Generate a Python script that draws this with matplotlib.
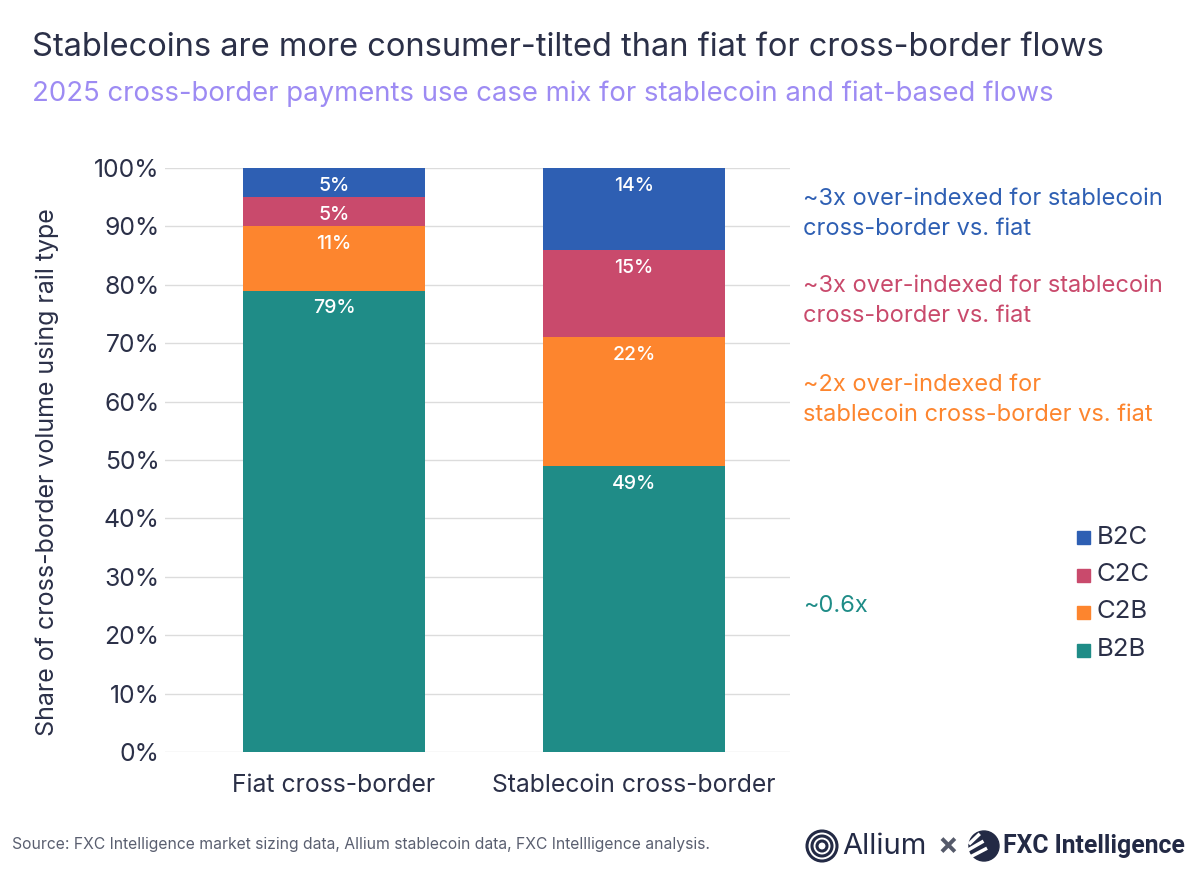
import numpy as np
import matplotlib.pyplot as plt
from matplotlib.patches import Ellipse

plt.rcParams['font.family'] = ['Inter', 'DejaVu Sans']

# data
categories = ['Fiat cross-border', 'Stablecoin cross-border']
segments = ['B2B', 'C2B', 'C2C', 'B2C']
shares = {
    'B2B': [79, 49],
    'C2B': [11, 22],
    'C2C': [5, 15],
    'B2C': [5, 14],
}
colors = {
    'B2B': '#1f8c87',
    'C2B': '#fd852e',
    'C2C': '#c94a6c',
    'B2C': '#2e5fb3',
}
notes = {
    'B2C': '~3x over-indexed for stablecoin\ncross-border vs. fiat',
    'C2C': '~3x over-indexed for stablecoin\ncross-border vs. fiat',
    'C2B': '~2x over-indexed for\nstablecoin cross-border vs. fiat',
    'B2B': '~0.6x',
}
note_y = {'B2C': 92.1, 'C2C': 77.2, 'C2B': 60.3, 'B2B': 25}

text_col = '#2b3048'

fig = plt.figure(figsize=(12, 8.75), dpi=100)
ax = fig.add_axes([0.1375, 0.1406, 0.521, 0.6674])

x = np.arange(len(categories))
bottom = np.zeros(len(categories))
for seg in segments:
    vals = np.array(shares[seg])
    ax.bar(x, vals, bottom=bottom, width=0.607, color=colors[seg], zorder=2)
    for xi, v, b in zip(x, vals, bottom):
        ax.text(xi, b + v - 1.5, f'{v}%', ha='center', va='top', color='white',
                fontsize=14, fontweight='medium', zorder=3)
    bottom += vals

ax.set_xlim(-0.563, 1.52)
ax.set_ylim(0, 100)
ax.set_yticks(np.arange(0, 101, 10))
ax.set_yticklabels([f'{v}%' for v in range(0, 101, 10)])
ax.yaxis.grid(True, color='#dcdcdc', linewidth=1, zorder=0)
ax.set_axisbelow(True)
for s in ax.spines.values():
    s.set_visible(False)
ax.tick_params(axis='both', length=0, labelsize=17.8, labelcolor=text_col)
ax.tick_params(axis='y', pad=4)
ax.tick_params(axis='x', pad=16)
ax.set_xticks(x)
ax.set_xticklabels(categories)
ax.set_ylabel('Share of cross-border volume using rail type', fontsize=18,
              color=text_col, va='center')
ax.yaxis.set_label_coords(-0.189, 0.48)

# side notes
for seg in segments:
    yf = 0.1406 + 0.6674 * note_y[seg] / 100
    fig.text(803 / 1200, yf, notes[seg], color=colors[seg], fontsize=17,
             va='center', ha='left', linespacing=1.5)

# legend
for i, seg in enumerate(['B2C', 'C2C', 'C2B', 'B2B']):
    yp = 1 - (537 + i * 37.5) / 875
    fig.patches.append(plt.Rectangle((1077 / 1200, yp - 0.008), 0.0108, 0.0148,
                                     transform=fig.transFigure, color=colors[seg]))
    fig.text(1097 / 1200, yp, seg, fontsize=18.5, color=text_col, va='center')

# titles
fig.text(32 / 1200, 1 - 48 / 875, 'Stablecoins are more consumer-tilted than fiat for cross-border flows',
         fontsize=23.5, color=text_col, va='center')
fig.text(32 / 1200, 1 - 94 / 875, '2025 cross-border payments use case mix for stablecoin and fiat-based flows',
         fontsize=19.8, color='#9d8bf3', va='center')

# footer
fig.text(12 / 1200, 1 - 845 / 875,
         'Source: FXC Intelligence market sizing data, Allium stablecoin data, FXC Intellligence analysis.',
         fontsize=11.3, color='#5a5f70', va='center')

logo_col = '#232a45'
yl = 1 - 846 / 875
for r in [15, 10, 5]:
    fig.patches.append(Ellipse((822 / 1200, yl), 2 * r / 1200, 2 * r / 875,
                               transform=fig.transFigure, fill=False,
                               edgecolor=logo_col, linewidth=2.2))
fig.text(842 / 1200, yl, 'Allium', fontsize=21, color=logo_col, va='center')
fig.text(937 / 1200, yl, '×', fontsize=22, color='#555a6a', va='center', fontweight='bold')
fig.patches.append(Ellipse((984 / 1200, yl), 30 / 1200, 30 / 875,
                           transform=fig.transFigure, color=logo_col))
for dy in [-7, 0, 7]:
    fig.lines.append(plt.Line2D([(968 + abs(dy) * 0.3) / 1200, (982 - dy * 0.5) / 1200],
                                [yl + (dy - 4) / 875, yl + (dy + 4) / 875],
                                transform=fig.transFigure, color='white', linewidth=2.5))
fig.text(1003 / 1200, yl, 'FXC Intelligence', fontsize=17.8, color=logo_col, va='center',
         fontweight='bold', family=['Roboto', 'DejaVu Sans'])

fig.savefig('out.png', dpi=100)
